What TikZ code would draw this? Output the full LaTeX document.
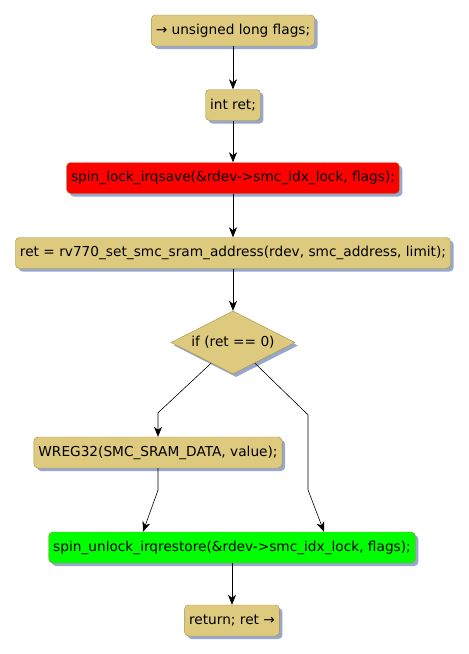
\documentclass[tikz,border=0pt]{standalone}
\usepackage{fontspec}
\setmainfont{DejaVu Sans}
\usetikzlibrary{shapes.geometric, arrows.meta, positioning, calc, shadows}

\definecolor{boxtan}{RGB}{221,202,126}
\definecolor{boxedge}{RGB}{163,142,62}
\definecolor{shadowblue}{RGB}{140,158,198}

\begin{document}
\begin{tikzpicture}[
  x=1pt, y=-1pt,
  stmt/.style={rectangle, rounded corners=4pt, draw=boxedge, fill=boxtan, minimum height=31pt, inner xsep=4.5pt, align=center, font=\fontsize{13.7}{15}\selectfont,
    drop shadow={shadow xshift=3pt, shadow yshift=-3pt, fill=shadowblue, opacity=0.9}},
  lockbox/.style={stmt, fill=red},
  unlockbox/.style={stmt, fill=green},
  cond/.style={diamond, draw=boxedge, fill=boxtan, aspect=2, inner sep=0pt, minimum width=124pt, minimum height=63pt, font=\fontsize{13.7}{15}\selectfont,
    drop shadow={shadow xshift=3pt, shadow yshift=-3pt, fill=shadowblue, opacity=0.9}},
  arr/.style={-{Stealth[length=10pt, width=8pt, inset=3pt]}, semithick}
]
\useasboundingbox (0,0) rectangle (469,654);
\node[stmt] (flags) at (233,30.5) {→ unsigned long flags;};
\node[stmt] (ret) at (233,105) {int ret;};
\node[lockbox] (lock) at (233,178) {spin\_lock\_irqsave(\&rdev->smc\_idx\_lock, flags);};
\node[stmt] (addr) at (233,253) {ret = rv770\_set\_smc\_sram\_address(rdev, smc\_address, limit);};
\node[cond] (test) at (233,342.5) {if (ret == 0)};
\node[stmt] (wreg) at (158,452.5) {WREG32(SMC\_SRAM\_DATA, value);};
\node[unlockbox] (unlock) at (232,547.5) {spin\_unlock\_irqrestore(\&rdev->smc\_idx\_lock, flags);};
\node[stmt] (retn) at (232,620.5) {return; ret →};
\draw[arr] (flags) -- (ret);
\draw[arr] (ret) -- (lock);
\draw[arr] (lock) -- (addr);
\draw[arr] (addr) -- (test);
\draw[arr] ($(test.west)!0.65!(test.south)$) -- ($(wreg.north)+(0,-24)$) -- (wreg.north);
\draw[arr] ($(test.east)!0.65!(test.south)$) -- ($(wreg.north)+(150,-22)$) -- ($(unlock.north)+(76,-42)$) -- ($(unlock.north)+(92,0)$);
\draw[arr] (wreg.south) -- ($(wreg.south)+(0,22)$) -- ($(unlock.north)+(-89,0)$);
\draw[arr] (unlock) -- (retn);
\end{tikzpicture}
\end{document}
